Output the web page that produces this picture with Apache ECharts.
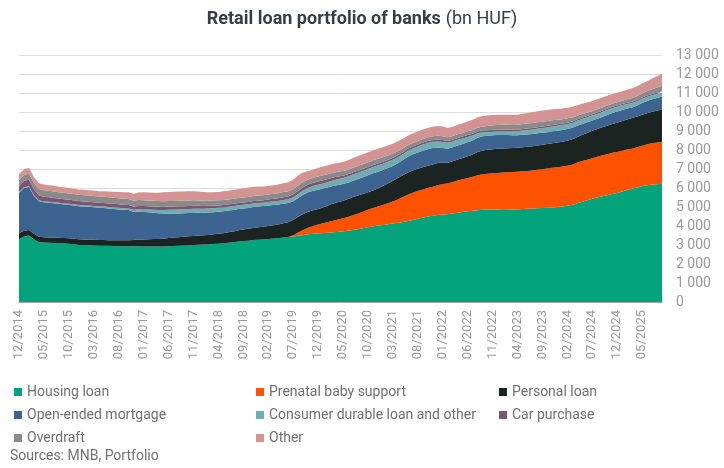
<!DOCTYPE html>
<html>
<head>
<meta charset="utf-8">
<script src="https://cdn.jsdelivr.net/npm/echarts@6/dist/echarts.min.js"></script>
<style>
html,body{margin:0;padding:0;background:#fff;}
#c{width:724px;height:468px;}
</style>
</head>
<body>
<div id="c"></div>
<script>
// Monthly categories 12/2014 .. 09/2025
const startYear = 2014, startMonth = 12, monthCount = 130;
const categories = [];
for (let k = 0; k < monthCount; k++) {
  const m = (startMonth - 1 + k) % 12 + 1;
  const y = startYear + Math.floor((startMonth - 1 + k) / 12);
  categories.push((m < 10 ? '0' + m : '' + m) + '/' + y);
}

const housingLoan = [
  3300,3450,3500,3300,3150,3130,3120,3110,3100,3080,3060,3040,
  3000,2990,2985,2975,2965,2960,2955,2950,2940,2935,2930,2930,
  2930,2925,2920,2920,2915,2920,2940,2950,2960,2975,2990,3000,
  3010,3020,3030,3050,3070,3090,3120,3150,3190,3210,3230,3260,
  3270,3290,3320,3340,3360,3390,3420,3450,3490,3530,3565,3590,
  3610,3630,3650,3670,3690,3720,3750,3790,3830,3880,3930,3980,
  4020,4050,4090,4130,4170,4210,4260,4320,4380,4440,4500,4540,
  4580,4610,4620,4660,4700,4740,4780,4800,4830,4850,4860,4870,
  4875,4880,4880,4875,4875,4890,4910,4925,4940,4950,4960,4980,
  5000,5030,5060,5110,5200,5280,5350,5430,5500,5560,5620,5680,
  5740,5820,5900,5960,6020,6090,6150,6180,6200,6230
];
const prenatalBabySupport = [
  0,0,0,0,0,0,0,0,0,0,0,0,
  0,0,0,0,0,0,0,0,0,0,0,0,
  0,0,0,0,0,0,0,0,0,0,0,0,
  0,0,0,0,0,0,0,0,0,0,0,0,
  0,0,0,0,0,0,0,60,170,260,340,410,
  470,510,560,610,650,690,730,780,830,870,920,970,
  1010,1060,1110,1160,1230,1310,1390,1430,1460,1480,1500,1530,
  1570,1600,1620,1650,1690,1720,1750,1790,1840,1870,1890,1900,
  1910,1930,1950,1970,1980,1990,1990,2000,2020,2040,2060,2080,
  2090,2100,2110,2120,2140,2140,2140,2140,2150,2160,2160,2170,
  2160,2140,2120,2110,2120,2140,2150,2170,2190,2210
];
const personalLoan = [
  320,300,290,290,280,275,275,280,280,285,290,295,
  300,300,300,300,300,300,300,300,305,310,320,330,
  360,370,380,390,400,415,430,440,450,460,470,480,
  485,490,500,510,520,535,550,565,580,600,620,640,
  660,670,680,700,720,750,780,810,830,840,840,830,
  820,840,870,900,910,920,940,960,950,930,920,925,
  950,990,1040,1090,1120,1150,1170,1170,1170,1170,1170,1170,
  1170,1130,1090,1100,1110,1120,1140,1170,1220,1250,1260,1270,
  1275,1270,1265,1260,1260,1265,1270,1275,1280,1285,1290,1300,
  1305,1310,1320,1335,1350,1380,1410,1440,1460,1480,1500,1520,
  1540,1570,1590,1610,1620,1630,1640,1660,1680,1700
];
const openEndedMortgage = [
  2130,2250,2260,2000,1870,1850,1830,1810,1790,1770,1760,1750,
  1740,1735,1725,1715,1700,1690,1670,1650,1630,1610,1590,1480,
  1460,1440,1420,1390,1360,1320,1290,1270,1250,1230,1220,1210,
  1200,1190,1180,1170,1160,1150,1140,1130,1120,1110,1100,1100,
  1095,1090,1085,1070,1050,1030,1010,980,990,1020,1030,1020,
  1010,990,960,930,910,880,860,850,860,880,900,900,
  880,850,810,780,780,800,830,850,860,870,870,860,
  800,760,740,735,735,735,735,740,750,750,740,735,
  730,710,690,670,660,655,650,645,640,635,630,625,
  620,615,610,600,590,575,560,540,530,540,560,575,
  580,575,570,560,580,610,640,655,665,670
];
const consumerDurable = [
  40,40,40,40,45,45,50,50,50,55,55,55,
  60,60,65,65,70,70,75,75,80,80,85,110,
  130,140,150,160,170,175,190,200,210,215,220,220,
  215,210,210,205,205,205,205,200,200,195,190,185,
  180,180,180,185,190,195,200,205,210,220,235,250,
  260,270,280,290,300,310,320,330,330,330,330,330,
  330,330,330,330,320,310,310,310,320,330,330,330,
  330,320,310,300,300,290,280,260,240,220,200,190,
  180,185,190,200,210,220,225,230,240,245,250,255,
  260,260,260,260,260,260,260,260,260,260,260,255,
  250,245,240,235,230,225,220,215,210,210
];
const carPurchase = [
  330,340,340,300,260,240,235,230,225,220,215,210,
  210,205,200,200,195,195,190,190,185,185,180,175,
  175,175,170,170,170,175,175,170,165,160,155,150,
  150,145,140,135,130,130,125,125,125,125,125,125,
  125,130,135,140,145,150,155,160,165,170,175,175,
  175,170,160,150,140,130,120,115,110,105,100,100,
  100,100,100,100,100,100,100,100,100,100,100,100,
  100,100,100,100,100,100,100,100,100,95,95,95,
  90,90,90,85,85,85,85,80,80,80,80,80,
  80,80,75,75,75,75,70,70,70,70,70,70,
  70,70,70,70,70,70,70,70,70,70
];
const overdraft = [
  300,310,320,330,340,340,340,340,335,335,335,330,
  330,330,325,325,320,320,320,320,320,320,315,310,
  310,310,305,300,300,295,290,290,290,290,290,290,
  285,280,275,270,265,265,260,260,260,265,265,270,
  270,265,260,260,265,270,270,275,280,275,260,260,
  262,260,255,250,250,245,240,240,245,250,250,250,
  245,240,230,220,215,205,190,190,190,190,190,195,
  200,200,190,190,195,195,200,195,190,200,220,240,
  260,260,260,260,260,260,260,260,260,255,250,240,
  235,230,230,210,190,180,175,170,170,170,170,170,
  170,175,180,190,200,215,230,250,270,290
];
const other = [
  300,300,310,310,310,300,300,295,290,290,290,285,
  285,285,285,285,285,290,300,315,330,340,350,360,
  400,420,420,420,440,480,480,480,485,490,490,480,
  470,460,440,430,440,450,455,460,470,480,490,490,
  480,460,440,450,460,465,465,500,535,500,440,440,
  450,460,460,470,470,480,500,520,525,525,530,530,
  530,525,525,525,520,510,500,500,500,495,495,500,
  510,520,485,490,500,510,520,540,560,555,545,540,
  530,530,530,530,530,540,560,575,580,585,590,580,
  570,565,565,560,550,540,530,530,525,520,510,505,
  500,500,505,510,520,520,520,560,600,630
];

const seriesNames = ['Housing loan','Prenatal baby support','Personal loan','Open-ended mortgage',
  'Consumer durable loan and other','Car purchase','Overdraft','Other'];
const seriesData = [housingLoan, prenatalBabySupport, personalLoan, openEndedMortgage,
  consumerDurable, carPurchase, overdraft, other];
const colors = ['#03a37c','#ff5200','#1b2421','#3d6490','#70adb1','#7d5574','#8a8a8a','#d49393'];

const font = 'Roboto, "Noto Sans", sans-serif';
const legendText = {fontFamily: font, fontSize: 14, color: '#6f6f6f', lineHeight: 14};
function mkLegend(left, names) {
  return {
    orient: 'vertical', left: left, top: 385, padding: 0, itemWidth: 8, itemHeight: 8, itemGap: 9,
    icon: 'rect', selectedMode: false, textStyle: legendText, data: names
  };
}

const chart = echarts.init(document.getElementById('c'), null, {renderer: 'canvas'});
chart.setOption({
  animation: false,
  color: colors,
  title: {
    left: 'center', top: 5,
    text: '{b|Retail loan portfolio of banks} {n|(bn HUF)}',
    textStyle: {
      fontWeight: 'normal',
      rich: {
        b: {fontFamily: font, fontSize: 18, fontWeight: 'bold', color: '#383c45'},
        n: {fontFamily: font, fontSize: 18, fontWeight: 'normal', color: '#383c45'}
      }
    }
  },
  legend: [
    mkLegend(14, ['Housing loan','Open-ended mortgage','Overdraft']),
    mkLegend(256, ['Prenatal baby support','Consumer durable loan and other','Other']),
    mkLegend(499, ['Personal loan','Car purchase'])
  ],
  graphic: [{
    type: 'text', left: 10, top: 449,
    style: {text: 'Sources: MNB, Portfolio', fontFamily: font, fontSize: 14, fill: '#6f6f6f'}
  }],
  grid: {left: 19, right: 62, top: 55, bottom: 166, containLabel: false},
  xAxis: {
    type: 'category', boundaryGap: false, data: categories,
    axisLine: {lineStyle: {color: '#a6a6a6', width: 1}},
    axisTick: {show: false},
    axisLabel: {interval: 4, rotate: 90, fontFamily: font, fontSize: 13, color: '#9a9a9a', margin: 8},
    splitLine: {show: false}
  },
  yAxis: {
    type: 'value', position: 'right', min: 0, max: 13000, interval: 1000,
    axisLine: {show: false}, axisTick: {show: false},
    axisLabel: {
      fontFamily: font, fontSize: 14, color: '#9a9a9a', margin: 14,
      formatter: v => String(v).replace(/\B(?=(\d{3})+(?!\d))/g, ' ')
    },
    splitLine: {lineStyle: {color: '#dcdcdc', width: 1}}
  },
  series: seriesNames.map((n, k) => ({
    name: n, type: 'line', stack: 'total', data: seriesData[k],
    showSymbol: false, symbol: 'none', silent: true,
    lineStyle: {width: 0}, areaStyle: {opacity: 1, color: colors[k]},
    itemStyle: {color: colors[k]}
  }))
});
</script>
</body>
</html>
